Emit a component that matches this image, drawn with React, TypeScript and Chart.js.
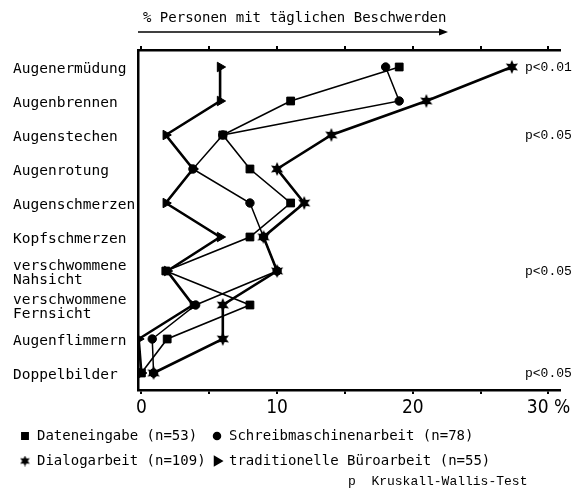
import React, { useEffect, useRef } from 'react';
import { Chart, registerables } from 'chart.js';
import { drawPoint } from 'chart.js/helpers';

Chart.register(...registerables);

// ---- data ----
const categories: (string | string[])[] = [
  'Augenermüdung',
  'Augenbrennen',
  'Augenstechen',
  'Augenrotung',
  'Augenschmerzen',
  'Kopfschmerzen',
  ['verschwommene', 'Nahsicht'],
  ['verschwommene', 'Fernsicht'],
  'Augenflimmern',
  'Doppelbilder',
];

const dateneingabe = [19, 11, 6, 8, 11, 8, 1.8, 8, 1.9, 0];
const schreibmaschinenarbeit = [18, 19, 6, 3.8, 8, 9, 10, 4, 0.8, 0.9];
const dialogarbeit = [27.3, 21, 14, 10, 12, 9, 10, 6, 6, 0.9];
const bueroarbeit = [5.8, 5.8, 1.8, 3.8, 1.8, 5.8, 1.9, 3.8, -0.2, 0];

const seriesLabels = [
  'Dateneingabe (n=53)',
  'Schreibmaschinenarbeit (n=78)',
  'Dialogarbeit (n=109)',
  'traditionelle Büroarbeit (n=55)',
];

const xTicks = [0, 5, 10, 15, 20, 25, 30];
const xTickLabels = ['0', '', '10', '', '20', '', '30 %'];

const pCategoryIndex = [0, 2, 6, 9];
const pLabels = ['p<0.01', 'p<0.05', 'p<0.05', 'p<0.05'];

const axisTitle = '% Personen mit täglichen Beschwerden';
const footnote = 'p  Kruskall-Wallis-Test';

const MONO = '"DejaVu Sans Mono", monospace';
const COURIER = '"Liberation Mono", monospace';
const NARROW = '"Liberation Sans Narrow", "DejaVu Sans Condensed", "DejaVu Sans", sans-serif';

function makeStar(size: number): HTMLCanvasElement {
  const c = document.createElement('canvas');
  c.width = size;
  c.height = size;
  const g = c.getContext('2d')!;
  const cx = size / 2;
  const cy = size / 2;
  const ro = size / 2;
  const ri = ro * 0.5;
  g.beginPath();
  for (let i = 0; i < 12; i++) {
    const r = i % 2 === 0 ? ro : ri;
    const a = -Math.PI / 2 + (i * Math.PI) / 6;
    const x = cx + r * Math.cos(a);
    const y = cy + r * Math.sin(a);
    if (i === 0) g.moveTo(x, y);
    else g.lineTo(x, y);
  }
  g.closePath();
  g.fillStyle = '#000';
  g.fill();
  return c;
}

export default function App() {
  const ref = useRef<HTMLCanvasElement>(null);

  useEffect(() => {
    if (!ref.current) return;
    const star = makeStar(14);
    const starSmall = makeStar(11);

    const legendMarkers: any[] = [
      { pointStyle: 'rect', radius: 4.5, rotation: 0 },
      { pointStyle: 'circle', radius: 3.5, rotation: 0 },
      { pointStyle: starSmall, radius: 5, rotation: 0 },
      { pointStyle: 'triangle', radius: 5, rotation: 90 },
    ];

    const decor = {
      id: 'decor',
      afterDraw(chart: any) {
        const { ctx, chartArea, scales } = chart;
        const yS = scales.y;
        ctx.save();
        ctx.fillStyle = '#000';
        ctx.strokeStyle = '#000';

        // axis title with arrow
        ctx.font = `14px ${MONO}`;
        ctx.textBaseline = 'middle';
        ctx.textAlign = 'left';
        ctx.fillText(axisTitle, chartArea.left + 5, chartArea.top - 32);
        const ay = chartArea.top - 18;
        const ax1 = chartArea.left;
        const ax2 = chartArea.left + 310;
        ctx.lineWidth = 1.5;
        ctx.beginPath();
        ctx.moveTo(ax1, ay);
        ctx.lineTo(ax2 - 6, ay);
        ctx.stroke();
        ctx.beginPath();
        ctx.moveTo(ax2, ay);
        ctx.lineTo(ax2 - 9, ay - 3.5);
        ctx.lineTo(ax2 - 9, ay + 3.5);
        ctx.closePath();
        ctx.fill();

        // p values
        ctx.font = `13px ${COURIER}`;
        pCategoryIndex.forEach((ci, i) => {
          ctx.fillText(pLabels[i], chartArea.right - 35, yS.getPixelForValue(ci) + 1);
        });

        // legend
        const cols = [25, 217];
        const rows = [436, 461];
        ctx.font = `14px ${MONO}`;
        chart.data.datasets.forEach((ds: any, i: number) => {
          const x = cols[i % 2];
          const y = rows[Math.floor(i / 2)];
          const m = legendMarkers[i];
          ctx.fillStyle = '#000';
          ctx.strokeStyle = '#000';
          drawPoint(ctx, { pointStyle: m.pointStyle, rotation: m.rotation, radius: m.radius, borderWidth: 1 }, x, y);
          ctx.fillStyle = '#000';
          ctx.fillText(ds.label, x + 12, y);
        });

        // footnote
        ctx.font = `13px ${COURIER}`;
        ctx.fillText(footnote, 348, 482);
        ctx.restore();
      },
    };

    const mk = (label: string, data: number[], style: any, radius: number, width: number, rotation = 0) => ({
      label,
      data,
      borderColor: '#000',
      backgroundColor: '#000',
      borderWidth: width,
      pointStyle: style,
      pointRadius: radius,
      pointRotation: rotation,
      pointBackgroundColor: '#000',
      pointBorderColor: '#000',
      pointBorderWidth: 1,
      tension: 0,
      fill: false,
    });

    const chart = new Chart(ref.current, {
      type: 'line',
      data: {
        labels: categories as any,
        datasets: [
          mk(seriesLabels[0], dateneingabe, 'rect', 5.5, 1.6),
          mk(seriesLabels[1], schreibmaschinenarbeit, 'circle', 4.2, 1.5),
          mk(seriesLabels[2], dialogarbeit, star, 7, 2.6),
          mk(seriesLabels[3], bueroarbeit, 'triangle', 5.5, 2.6, 90),
        ] as any,
      },
      options: {
        indexAxis: 'y',
        responsive: false,
        animation: false,
        events: [],
        layout: { padding: { left: 13, right: 26, top: 50, bottom: 68 } },
        plugins: { legend: { display: false }, tooltip: { enabled: false }, title: { display: false } },
        scales: {
          y: {
            type: 'category',
            offset: true,
            grid: { display: false },
            border: { display: true, color: '#000', width: 2.5 },
            ticks: {
              color: '#000',
              crossAlign: 'far',
              autoSkip: false,
              labelOffset: 2,
              font: { family: MONO, size: 14.5, lineHeight: 0.95 },
            },
            afterFit(s: any) {
              s.width = 125;
            },
          },
          x: {
            type: 'linear',
            position: 'bottom',
            min: -0.25,
            max: 30.85,
            grid: { drawOnChartArea: false, drawTicks: true, tickLength: 4, color: '#000', lineWidth: 2 },
            border: { display: true, color: '#000', width: 2.5 },
            afterBuildTicks(s: any) {
              s.ticks = xTicks.map((v) => ({ value: v }));
            },
            ticks: {
              color: '#000',
              padding: 3,
              maxRotation: 0,
              autoSkip: false,
              font: { family: NARROW, size: 19 },
              callback: (v: any) => {
                const i = xTicks.indexOf(Number(v));
                return i >= 0 ? xTickLabels[i] : '';
              },
            },
            afterFit(s: any) {
              s.height = 30;
            },
          },
          x2: {
            type: 'linear',
            position: 'top',
            min: -0.25,
            max: 30.85,
            grid: { drawOnChartArea: false, drawTicks: true, tickLength: 4, color: '#000', lineWidth: 2 },
            border: { display: true, color: '#000', width: 2.5 },
            afterBuildTicks(s: any) {
              s.ticks = xTicks.map((v) => ({ value: v }));
            },
            ticks: { display: false },
            afterFit(s: any) {
              s.height = 0;
            },
          },
        },
      } as any,
      plugins: [decor],
    });

    return () => chart.destroy();
  }, []);

  return (
    <canvas
      ref={ref}
      width={586}
      height={488}
      style={{ position: 'absolute', left: 0, top: 0, background: '#fff' }}
    />
  );
}
